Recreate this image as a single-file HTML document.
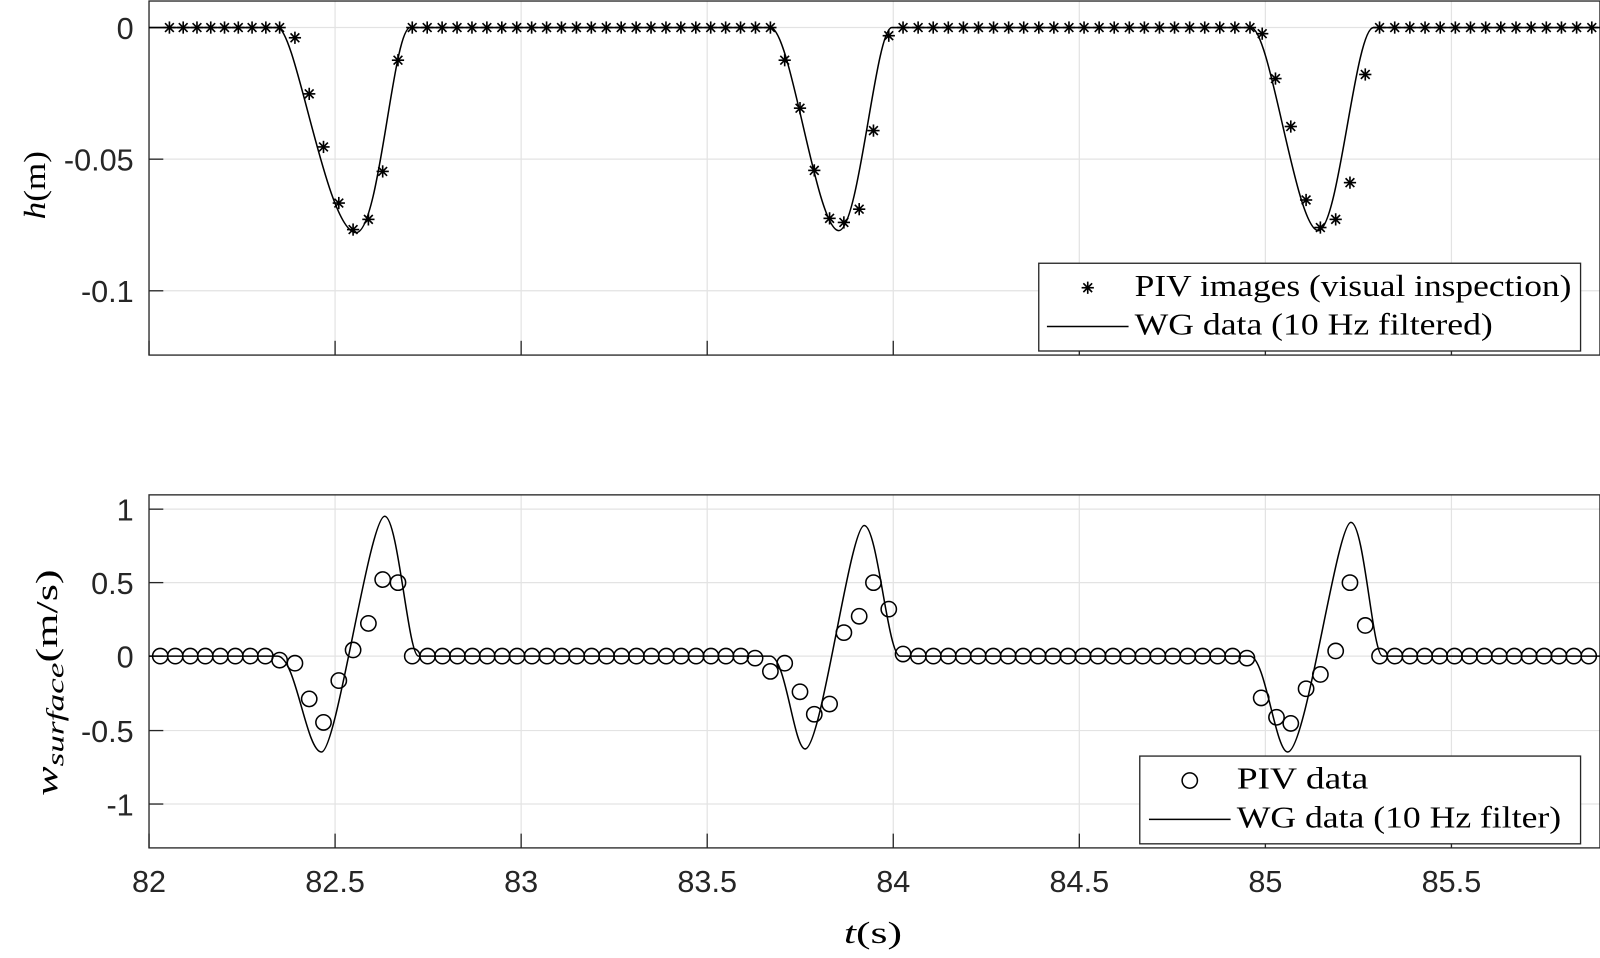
<!DOCTYPE html>
<html><head><meta charset="utf-8"><style>
html,body{margin:0;padding:0;background:#fff}
svg text{font-family:"Liberation Sans",sans-serif;font-size:30px;fill:#262626}
.s{font-family:"Liberation Serif",serif;fill:#000}
</style></head><body>
<svg id="c" width="1600" height="953" viewBox="0 0 1568 934" xmlns="http://www.w3.org/2000/svg">
<defs>
<g id="st" stroke="#000" stroke-width="1.6"><line x1="-6" y1="0" x2="6" y2="0"/><line x1="0" y1="-6" x2="0" y2="6"/><line x1="-4.3" y1="-4.3" x2="4.3" y2="4.3"/><line x1="-4.3" y1="4.3" x2="4.3" y2="-4.3"/></g>
<circle id="ci" r="7.5" fill="none" stroke="#000" stroke-width="1.5"/>
</defs>
<g id="grid" stroke="#e3e3e3" stroke-width="1.2"></g>
<rect x="146" y="1" width="1422" height="347" fill="none" stroke="#262626" stroke-width="1.3"/>
<rect x="146" y="485" width="1422" height="346" fill="none" stroke="#262626" stroke-width="1.3"/>
<g id="ticks" stroke="#262626" stroke-width="1.3"></g>
<text x="131" y="38" text-anchor="end">0</text>
<text x="131" y="167" text-anchor="end">-0.05</text>
<text x="131" y="296" text-anchor="end">-0.1</text>
<text x="131" y="510" text-anchor="end">1</text>
<text x="131" y="582" text-anchor="end">0.5</text>
<text x="131" y="654" text-anchor="end">0</text>
<text x="131" y="727" text-anchor="end">-0.5</text>
<text x="131" y="799" text-anchor="end">-1</text>
<g id="xl"></g>
<text class="s" x="827" y="924" font-size="38" textLength="57" lengthAdjust="spacingAndGlyphs"><tspan font-style="italic">t</tspan>(s)</text>
<text class="s" transform="translate(44,215) rotate(-90)" font-size="38" textLength="67" lengthAdjust="spacingAndGlyphs"><tspan font-style="italic">h</tspan>(m)</text>
<text class="s" transform="translate(56,780) rotate(-90)" font-size="32" textLength="222" lengthAdjust="spacingAndGlyphs"><tspan font-style="italic">w</tspan><tspan font-style="italic" font-size="24" dy="6">surface</tspan><tspan dy="-6">(m/s)</tspan></text>
<path fill="none" stroke="#000" stroke-width="1.5" d="M146 27 L272 27 C290 27,320 228,349 228 C372 228,385 27,402 27 L755 27 C775 27,800 226,822 226 C842 226,858 27,874 27 L1226 27 C1245 27,1270 226,1292 226 C1312 226,1328 27,1346 27 L1568 27"/>
<path fill="none" stroke="#000" stroke-width="1.5" d="M146 643 L272 643 C290 643,300 737,315 737 C330 737,362 506,377 506 C390 506,400 643,410 643 L755 643 C770 643,778 734,789 734 C805 734,833 515,847 515 C860 515,870 643,882 643 L1225 643 C1240 643,1250 737,1262 737 C1280 737,1310 512,1324 512 C1337 512,1345 643,1355 643 L1568 643"/>
<g id="m"></g>
<rect x="1018" y="258" width="531" height="86" fill="#fff" stroke="#262626" stroke-width="1.3"/>
<use href="#st" x="1066" y="282"/>
<line x1="1026" y1="320" x2="1106" y2="320" stroke="#000" stroke-width="1.5"/>
<text class="s" x="1112" y="290" font-size="31" textLength="428" lengthAdjust="spacingAndGlyphs">PIV images (visual inspection)</text>
<text class="s" x="1112" y="328" font-size="31" textLength="351" lengthAdjust="spacingAndGlyphs">WG data (10 Hz filtered)</text>
<rect x="1117" y="741" width="432" height="86" fill="#fff" stroke="#262626" stroke-width="1.3"/>
<use href="#ci" x="1166" y="765"/>
<line x1="1126" y1="803" x2="1206" y2="803" stroke="#000" stroke-width="1.5"/>
<text class="s" x="1212" y="773" font-size="31" textLength="129" lengthAdjust="spacingAndGlyphs">PIV data</text>
<text class="s" x="1212" y="811" font-size="31" textLength="318" lengthAdjust="spacingAndGlyphs">WG data (10 Hz filter)</text>
</svg>
<script>
const NS="http://www.w3.org/2000/svg";
function el(p,t,a){const e=document.createElementNS(NS,t);for(const k in a)e.setAttribute(k,a[k]);document.getElementById(p).appendChild(e);return e;}
const X=v=>146+(v-82)*364.7;
for(let v=82.5;v<85.9;v+=0.5){const x=X(v);el('grid','line',{x1:x,y1:1,x2:x,y2:348});el('grid','line',{x1:x,y1:485,x2:x,y2:831});}
[27,156,285].forEach(y=>el('grid','line',{x1:146,y1:y,x2:1568,y2:y}));
[499,571,643,716,788].forEach(y=>el('grid','line',{x1:146,y1:y,x2:1568,y2:y}));
for(let v=82;v<85.9;v+=0.5){const x=X(v);el('ticks','line',{x1:x,y1:348,x2:x,y2:334});el('ticks','line',{x1:x,y1:831,x2:x,y2:817});
 const t=el('xl','text',{x:x,y:874,'text-anchor':'middle'});t.textContent=(Math.round(v*10)/10).toString();}
[27,156,285].forEach(y=>el('ticks','line',{x1:146,y1:y,x2:160,y2:y}));
[499,571,643,716,788].forEach(y=>el('ticks','line',{x1:146,y1:y,x2:160,y2:y}));
function seq(a,b,n){const r=[];for(let i=0;i<=n;i++)r.push(a+(b-a)*i/n);return r;}
let stars=[];
seq(166,274,8).concat(seq(404,755,24),seq(885,1225,23),seq(1352,1560,14)).forEach(x=>stars.push([x,27]));
stars=stars.concat([[289,37],[303,92],[317,144],[332,199],[346,225],[361,215],[375,168],[390,59],[769,59],[784,106],[798,167],[813,214],[827,218],[842,205],[856,128],[871,35],[1237,33],[1250,77],[1265,124],[1280,196],[1294,223],[1309,215],[1323,179],[1338,73]]);
stars.forEach(p=>el('m','use',{href:'#st',x:p[0],y:p[1]}));
let cs=[];
seq(157,260,7).concat(seq(419,726,21),seq(900,1208,21),seq(1367,1557,13)).forEach(x=>cs.push([x,643]));
cs=cs.concat([[274,647],[289,650],[303,685],[317,708],[332,667],[346,637],[361,611],[375,568],[390,571],[404,643],[740,645],[755,658],[769,650],[784,678],[798,700],[813,690],[827,620],[842,604],[856,571],[871,597],[885,641],[1222,645],[1236,684],[1251,703],[1265,709],[1280,675],[1294,661],[1309,638],[1323,571],[1338,613],[1352,643]]);
cs.forEach(p=>el('m','use',{href:'#ci',x:p[0],y:p[1]}));
</script>
</body></html>
